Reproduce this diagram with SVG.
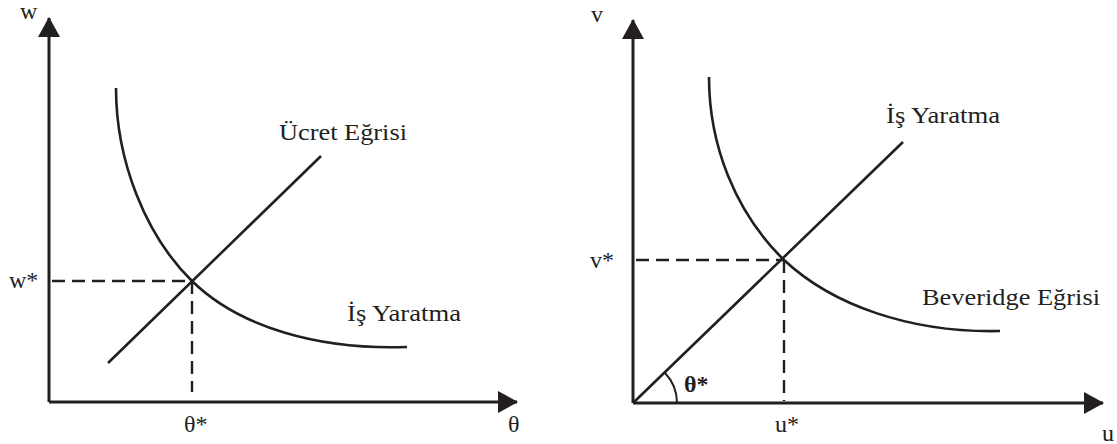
<svg xmlns="http://www.w3.org/2000/svg" width="1117" height="444" viewBox="0 0 1117 444">
<style>
  .ax{stroke:#231f20;stroke-width:3;fill:none}
  .ln{stroke:#231f20;stroke-width:2.6;fill:none}
  .ds{stroke:#231f20;stroke-width:2.4;fill:none;stroke-dasharray:13 7}
  .t{font-family:"Liberation Serif","Times New Roman",serif;font-size:24px;fill:#231f20}
  .b{font-weight:bold}
</style>
<defs>
  <marker id="ah" viewBox="0 0 20 22" refX="19" refY="11" markerWidth="20" markerHeight="22" markerUnits="userSpaceOnUse" orient="auto">
    <path d="M0,0 L20,11 L0,22 Z" fill="#231f20"/>
  </marker>
</defs>
<rect width="1117" height="444" fill="#fff"/>
<g id="connectors">
  <path class="ax" d="M49,402 L49,18" marker-end="url(#ah)"/>
  <path class="ax" d="M49,402 L517,402" marker-end="url(#ah)"/>
  <path class="ds" d="M52,281 L192,281"/>
  <path class="ds" d="M192,281 L192,392"/>
  <path class="ln" d="M108,363 L321,156"/>
  <path class="ln" d="M116,88 C116,160 145,235 192,281 C240,328 320,350 407,347"/>
  <path class="ax" d="M633,403 L633,20" marker-end="url(#ah)"/>
  <path class="ax" d="M633,403 L1103,403" marker-end="url(#ah)"/>
  <path class="ds" d="M636,260 L784,260"/>
  <path class="ds" d="M784,260 L784,401"/>
  <path class="ln" d="M633,403 L903,142"/>
  <path class="ln" d="M709,77 C709,145 735,212 784,260 C832,305 910,333 1000,331"/>
  <path class="ln" d="M677,403 A44,44 0 0 0 664.6,372.5" style="stroke-width:2"/>
</g>
<g id="left-labels">
  <text class="t" x="20" y="19">w</text>
  <text class="t" x="9" y="288">w*</text>
  <text class="t" x="184" y="432">θ*</text>
  <text class="t" x="508" y="432">θ</text>
  <text class="t" x="279" y="140" textLength="128" lengthAdjust="spacingAndGlyphs">Ücret Eğrisi</text>
  <text class="t" x="347" y="321" textLength="114" lengthAdjust="spacingAndGlyphs">İş Yaratma</text>
</g>
<g id="right-labels">
  <text class="t" x="591" y="22">v</text>
  <text class="t" x="590" y="268">v*</text>
  <text class="t" x="775" y="432">u*</text>
  <text class="t" x="1102" y="441">u</text>
  <text class="t b" x="684" y="392">θ*</text>
  <text class="t" x="886" y="123" textLength="114" lengthAdjust="spacingAndGlyphs">İş Yaratma</text>
  <text class="t" x="922" y="305" textLength="178" lengthAdjust="spacingAndGlyphs">Beveridge Eğrisi</text>
</g>
</svg>
